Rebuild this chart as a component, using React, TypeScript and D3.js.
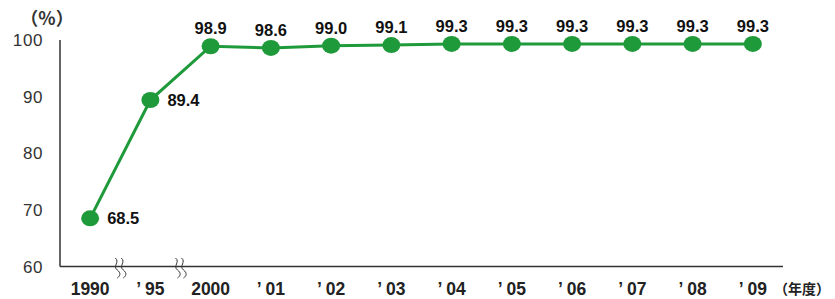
import React, { useEffect, useRef } from "react";
import * as d3 from "d3";

const years = ["1990", "’95", "2000", "’01", "’02", "’03", "’04", "’05", "’06", "’07", "’08", "’09"];
const rates = [68.5, 89.4, 98.9, 98.6, 99.0, 99.1, 99.3, 99.3, 99.3, 99.3, 99.3, 99.3];
const yTicks = [60, 70, 80, 90, 100];
// index of the gap after which an axis break mark is drawn
const breakAfter = [0, 1];

const GREEN = "#1f9a3b";

const App: React.FC = () => {
  const svgRef = useRef<SVGSVGElement>(null);

  useEffect(() => {
    if (!svgRef.current) return;
    const width = 835;
    const height = 299;
    const svg = d3.select(svgRef.current);
    svg.selectAll("*").remove();
    svg.attr("width", width).attr("height", height);

    const left = 60;
    const right = 783;
    const top = 40;
    const bottom = 266.5;

    const x = d3.scalePoint<string>().domain(years).range([left, right]).padding(0.5);
    const y = d3.scaleLinear().domain([60, 100]).range([bottom, top]);

    const font = "'Liberation Sans', Arial, Helvetica, sans-serif";
    const cjk = "'Noto Sans CJK JP', sans-serif";

    // axes lines
    svg.append("line")
      .attr("x1", left).attr("x2", left)
      .attr("y1", top).attr("y2", bottom)
      .attr("stroke", "#333").attr("stroke-width", 1.5);
    svg.append("line")
      .attr("x1", left).attr("x2", right)
      .attr("y1", bottom).attr("y2", bottom)
      .attr("stroke", "#333").attr("stroke-width", 1.5);

    // y tick labels
    svg.selectAll(".ytick")
      .data(yTicks)
      .join("text")
      .attr("x", 43)
      .attr("y", d => y(d))
      .attr("dy", "0.36em")
      .attr("text-anchor", "end")
      .attr("font-family", font)
      .attr("font-size", 17)
      .attr("letter-spacing", 0.6)
      .attr("fill", "#333")
      .text(d => d);

    svg.append("text")
      .attr("x", 47).attr("y", 25)
      .attr("text-anchor", "middle")
      .attr("font-family", cjk)
      .attr("font-size", 18)
      .attr("font-weight", "bold")
      .attr("fill", "#333")
      .text("（%）");

    // x tick labels
    svg.selectAll(".xtick")
      .data(years)
      .join("text")
      .attr("x", d => x(d) ?? 0)
      .attr("y", 295)
      .attr("text-anchor", "middle")
      .attr("font-family", font)
      .attr("font-size", 17.5)
      .attr("font-weight", "bold")
      .attr("fill", "#222")
      .attr("xml:space", "preserve")
      .text(d => (d.startsWith("’") ? "’ " + d.slice(1) : d));

    svg.append("text")
      .attr("x", 774).attr("y", 294)
      .attr("font-family", cjk)
      .attr("font-size", 14)
      .attr("font-weight", "bold")
      .attr("fill", "#222")
      .text("（年度）");

    // break marks
    const step = x.step();
    breakAfter.forEach(i => {
      const cx = (x(years[i]) ?? 0) + step / 2;
      [-3, 3].forEach(off => {
        const path = d3.path();
        path.moveTo(cx + off - 2, 258);
        path.bezierCurveTo(cx + off + 3, 262, cx + off - 5, 266, cx + off, 270);
        path.bezierCurveTo(cx + off + 4, 273, cx + off + 3, 276, cx + off, 278);
        svg.append("path")
          .attr("d", path.toString())
          .attr("fill", "none")
          .attr("stroke", "#333")
          .attr("stroke-width", 1);
      });
    });

    // line
    const line = d3.line<number>()
      .x((_, i) => x(years[i]) ?? 0)
      .y(d => y(d));
    svg.append("path")
      .datum(rates)
      .attr("d", line)
      .attr("fill", "none")
      .attr("stroke", GREEN)
      .attr("stroke-width", 3);

    svg.selectAll(".pt")
      .data(rates)
      .join("ellipse")
      .attr("cx", (_, i) => x(years[i]) ?? 0)
      .attr("cy", d => y(d))
      .attr("rx", 9)
      .attr("ry", 8)
      .attr("fill", GREEN);

    // value labels
    svg.selectAll(".val")
      .data(rates)
      .join("text")
      .attr("x", (_, i) => (x(years[i]) ?? 0) + (i < 2 ? 17 : 0))
      .attr("y", (d, i) => (i < 2 ? y(d) + 6 : y(d) - 12))
      .attr("text-anchor", (_, i) => (i < 2 ? "start" : "middle"))
      .attr("font-family", font)
      .attr("font-size", 16.5)
      .attr("font-weight", "bold")
      .attr("fill", "#111")
      .text(d => d.toFixed(1));
  }, []);

  return (
    <div style={{ position: "absolute", left: 0, top: 0, width: 835, height: 299, overflow: "hidden" }}>
      <svg ref={svgRef} style={{ display: "block" }} />
    </div>
  );
};

export default App;
